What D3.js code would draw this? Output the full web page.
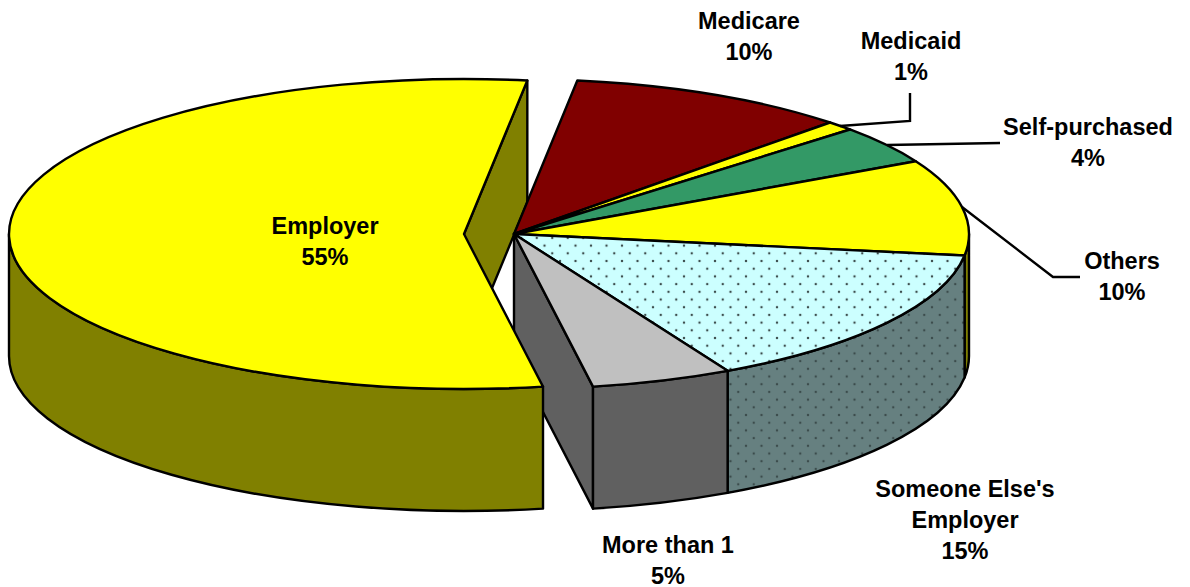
<!DOCTYPE html>
<html>
<head>
<meta charset="utf-8">
<script src="https://cdn.jsdelivr.net/npm/d3@7"></script>
<style>
html, body { margin: 0; padding: 0; background: #fff; }
text { font-family: "Liberation Sans", Arial, sans-serif; font-weight: bold; font-size: 23.5px; fill: #000; }
</style>
</head>
<body>
<div id="chart"></div>
<script>
var categories = ["Employer", "Medicare", "Medicaid", "Self-purchased", "Others", "Someone Else's Employer", "More than 1"];
var shares = [55, 10, 1, 4, 10, 15, 5];
var topColors = ["#ffff00", "#800000", "#ffff00", "#339966", "#ffff00", "url(#dotsTop)", "#c0c0c0"];
var wallColors = ["#808000", "#400000", "#808000", "#1a4d33", "#808000", "url(#dotsWall)", "#606060"];

// label text is split by hand, same breaks as the original
var labelLines = [["Employer"], ["Medicare"], ["Medicaid"], ["Self-purchased"], ["Others"], ["Someone Else's", "Employer"], ["More than 1"]];
var labelAt = [[325, 234], [749, 29], [911, 49], [1088, 135], [1122, 269], [965, 497], [668, 553]];
var leaders = [
    [[840, 126], [910, 121], [910, 93]],
    [[887, 145], [1000, 143]],
    [[962, 207], [1053, 277], [1080, 277]]
];

var width = 1190, height = 587;
var cx = 514, cy = 234, rx = 455, ry = 155, depth = 122, pull = 50;

var svg = d3.select("#chart").append("svg")
    .attr("width", width)
    .attr("height", height)
    .style("display", "block");

var defs = svg.append("defs");
function addDots(id, bg) {
    var p = defs.append("pattern")
        .attr("id", id)
        .attr("patternUnits", "userSpaceOnUse")
        .attr("x", 715).attr("y", 338)
        .attr("width", 15.5).attr("height", 15.4);
    p.append("rect").attr("width", 15.5).attr("height", 15.4).attr("fill", bg);
    p.append("circle").attr("cx", 7.75).attr("cy", 7.7).attr("r", 1.2).attr("fill", "#3c4c4c");
    p.append("circle").attr("cx", 0).attr("cy", 15.4).attr("r", 1.2).attr("fill", "#3c4c4c");
    p.append("circle").attr("cx", 15.5).attr("cy", 15.4).attr("r", 1.2).attr("fill", "#3c4c4c");
    p.append("circle").attr("cx", 0).attr("cy", 0).attr("r", 1.2).attr("fill", "#3c4c4c");
    p.append("circle").attr("cx", 15.5).attr("cy", 0).attr("r", 1.2).attr("fill", "#3c4c4c");
}
addDots("dotsTop", "#ccffff");
addDots("dotsWall", "#668080");

// Employer starts at the front, just right of the bottom of the ellipse
var deg = Math.PI / 180;
var pie = d3.pie().sort(null).startAngle(170 * deg).endAngle(530 * deg);
var arcs = pie(shares);

function pt(a, ox) {
    return [cx + ox + rx * Math.sin(a), cy - ry * Math.cos(a)];
}
function ellipseTo(p, a0, a1, sweep) {
    return "A" + rx + "," + ry + " 0 " + (Math.abs(a1 - a0) > Math.PI ? 1 : 0) + " " + sweep + " " + p[0] + "," + p[1];
}
function topPath(d, ox) {
    var p0 = pt(d.startAngle, ox), p1 = pt(d.endAngle, ox);
    return "M" + (cx + ox) + "," + cy + "L" + p0 + ellipseTo(p1, d.startAngle, d.endAngle, 1) + "Z";
}
// only the part between 90 and 270 degrees (and again one turn later) faces the viewer
function wallPath(d, ox) {
    var out = "";
    [[90, 270], [450, 630]].forEach(function (r) {
        var a0 = Math.max(d.startAngle, r[0] * deg), a1 = Math.min(d.endAngle, r[1] * deg);
        if (a1 <= a0) return;
        var p0 = pt(a0, ox), p1 = pt(a1, ox);
        out += "M" + p0 + ellipseTo(p1, a0, a1, 1) + "v" + depth +
            ellipseTo([p0[0], p0[1] + depth], a0, a1, 0) + "Z";
    });
    return out;
}
// flat cut face running from the pie centre out to the rim at angle a
function cutPath(a, ox) {
    var p = pt(a, ox);
    return "M" + (cx + ox) + "," + cy + "L" + p + "v" + depth + "L" + (cx + ox) + "," + (cy + depth) + "Z";
}

function draw(path, fill) {
    return svg.append("path")
        .attr("d", path)
        .attr("fill", fill)
        .attr("stroke", "#000")
        .attr("stroke-width", 2.4)
        .attr("stroke-linejoin", "round");
}

var employer = arcs[0], rest = arcs.slice(1);

// back to front: Employer's back cut, the main pie, then the pulled out Employer slice
draw(cutPath(employer.endAngle, -pull), wallColors[0]);
draw(cutPath(rest[rest.length - 1].endAngle, 0), wallColors[6]);
rest.forEach(function (d, i) {
    var w = wallPath(d, 0);
    if (w) draw(w, wallColors[i + 1]);
});
rest.forEach(function (d, i) {
    draw(topPath(d, 0), topColors[i + 1]);
});
draw(wallPath(employer, -pull), wallColors[0]);
draw(topPath(employer, -pull), topColors[0]);

var line = d3.line();
leaders.forEach(function (l) {
    svg.append("path").attr("d", line(l)).attr("fill", "none").attr("stroke", "#000").attr("stroke-width", 2.4);
});

categories.forEach(function (c, i) {
    var t = svg.append("text")
        .attr("text-anchor", "middle")
        .attr("x", labelAt[i][0])
        .attr("y", labelAt[i][1]);
    labelLines[i].concat(shares[i] + "%").forEach(function (s, j) {
        t.append("tspan")
            .attr("x", labelAt[i][0])
            .attr("dy", j ? 31 : 0)
            .text(s);
    });
});
</script>
</body>
</html>
